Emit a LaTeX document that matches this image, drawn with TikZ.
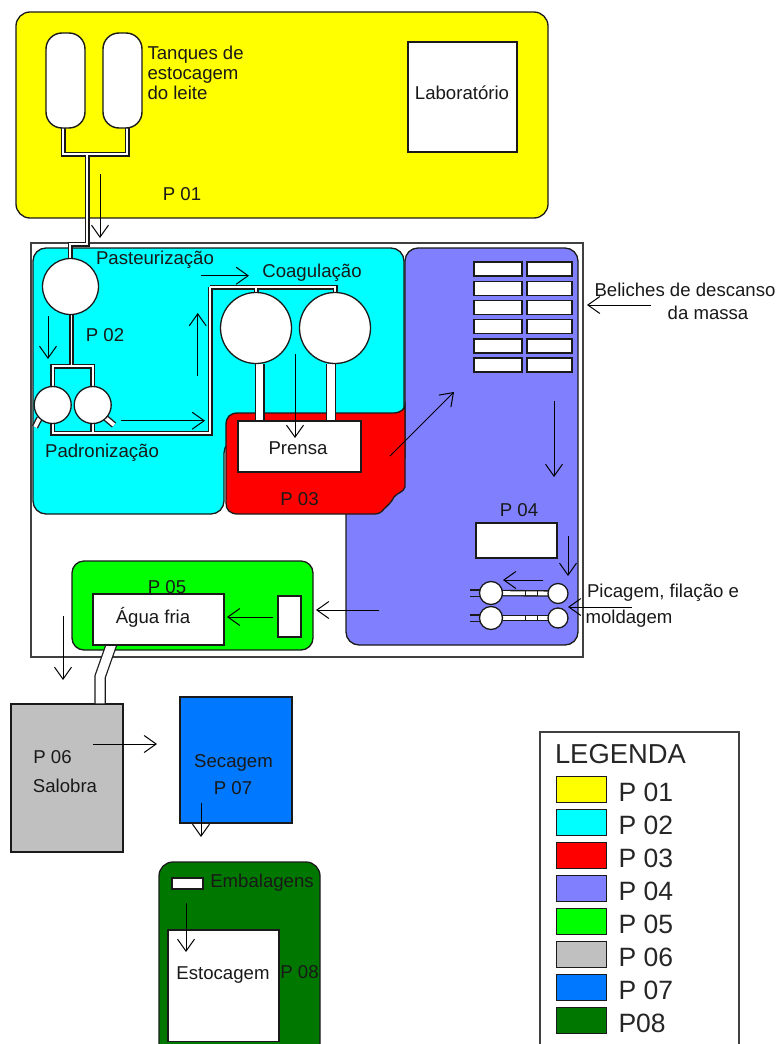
\documentclass[tikz,border=0pt]{standalone}
\usepackage{fontspec}
\setmainfont{Liberation Sans}
\usetikzlibrary{arrows.meta}
\definecolor{cP1}{HTML}{FFFF00}
\definecolor{cP2}{HTML}{00FFFF}
\definecolor{cP3}{HTML}{FF0000}
\definecolor{cP4}{HTML}{8080FF}
\definecolor{cP5}{HTML}{00FF00}
\definecolor{cP6}{HTML}{C0C0C0}
\definecolor{cP7}{HTML}{0078FF}
\definecolor{cP8}{HTML}{007800}
\definecolor{edge}{HTML}{1A1A1A}
\tikzset{
  zone/.style={draw=edge,line width=1.3pt},
  whitebox/.style={draw=edge,line width=1.4pt,fill=white,inner sep=0pt,outer sep=0pt},
  circ/.style={circle,draw=edge,line width=1.3pt,fill=white,inner sep=0pt,outer sep=0pt},
  lbl/.style={font=\fontsize{18.6}{20}\selectfont,text=black!90,inner sep=0pt,outer sep=0pt},
  leglbl/.style={font=\fontsize{26.5}{30}\selectfont,text=black!85,inner sep=0pt,outer sep=0pt},
  pipeout/.style={draw=edge,line width=5pt,line join=miter},
  pipein/.style={draw=white,line width=1.8pt,line join=miter},
  barout/.style={draw=edge,line width=6.5pt},
  barin/.style={draw=white,line width=3.8pt},
  wideout/.style={draw=edge,line width=10pt},
  widein/.style={draw=white,line width=7.6pt},
  hoseout/.style={draw=edge,line width=11.5pt},
  hosein/.style={draw=white,line width=9pt},
  flow/.style={draw=black,line width=1pt,-{Straight Barb[length=12pt,width=17pt,line width=1pt]}},
  swatch/.style={draw=edge,line width=1.6pt,minimum width=50pt,minimum height=26pt,inner sep=0pt,outer sep=0pt},
  frame/.style={draw=black!75,line width=1.5pt},
}
\newcommand{\flowarrow}[3]{%
  \coordinate (#1s) at (#2); \coordinate (#1e) at (#3);
  \draw[flow] (#1s) -- (#1e);}
\newcommand{\thinpipes}[1]{%
  \draw[#1] (tankA.south -| jA) -- (jA) -- (jB) -- (tankB.south -| jB);
  \draw[#1] (jC) -- (jD) -- (jE) -- (past.north -| jE);
  \draw[#1] (past.south -| jF) -- (jF);
  \draw[#1] (padA.north) -- (padA.north |- jF) -- (padB.north |- jF) -- (padB.north);
  \draw[#1] (padA.south) -- (padA.south |- jG) -- (jG) -- (jH) -- (jI);
  \draw[#1] (padB.south) -- (padB.south |- jG);
  \draw[#1] (jI -| coagA) -- (coagA.north);
  \draw[#1] (jI) -- (coagB.north |- jI) -- (coagB.north);
}
\newcommand{\barpipes}[1]{%
  \draw[#1] (padA.225) -- (nozA);
  \draw[#1] (padB.-45) -- (nozB);
  \draw[#1] (fillA.center) -- (fillB.center);
  \draw[#1] (fillC.center) -- (fillD.center);
}
\begin{document}
\begin{tikzpicture}[x=1pt,y=-1pt]
\useasboundingbox (0,0) rectangle (779,1044);
% P01
\draw[zone,fill=cP1,rounded corners=14pt] (16,12) rectangle (548,218);
% main frame
\draw[frame] (31,243) rectangle (583,657);
% P02
\draw[zone,fill=cP2,rounded corners=13pt] (33,248) -- (404,248) -- (404,440) -- (224,440) -- (224,514) -- (33,514) -- cycle;
% P04
\draw[zone,fill=cP4,rounded corners=13pt] (405,300) -- (405,248) -- (578,248) -- (578,645) -- (346,645) -- (346,470) -- (405,470) -- cycle;
% P03
\draw[zone,fill=cP3] (226,425) .. controls (226,417) and (230,413) .. (238,413) -- (394,413) .. controls (400,413) and (405,409) .. (405,405) -- (405,487) .. controls (403,493) and (398,492) .. (394,497) .. controls (391,503) and (388,505) .. (384,509) .. controls (381,513) and (378,514) .. (374,514) -- (238,514) .. controls (230,514) and (226,510) .. (226,503) -- cycle;
% P05
\draw[zone,fill=cP5,rounded corners=12pt] (72,561) rectangle (313,650);
% P06, P07, P08
\node[zone,fill=cP6,minimum width=112pt,minimum height=148pt,inner sep=0pt] (p6) at (67,778) {};
\node[zone,fill=cP7,minimum width=112pt,minimum height=126pt,inner sep=0pt] (p7) at (236,760) {};
\draw[zone,fill=cP8,rounded corners=14pt] (159,862) rectangle (320,1060);

% junctions of the pipes
\coordinate (jA) at (63,154);
\coordinate (jB) at (127,154);
\coordinate (jC) at (87,154);
\coordinate (jD) at (87,244);
\coordinate (jE) at (70,244);
\coordinate (jF) at (71.5,366);
\coordinate (jG) at (53,433);
\coordinate (jH) at (210,433);
\coordinate (jI) at (210,287);
\coordinate (nozA) at (35,427);
\coordinate (nozB) at (114,425);

% equipment (named first, placed here so that pipes can refer to them)
\path node[minimum width=39pt,minimum height=95pt,inner sep=0pt,outer sep=0pt] (tankA) at (65.5,80.5) {}
      node[minimum width=39pt,minimum height=95pt,inner sep=0pt,outer sep=0pt] (tankB) at (122.5,80.5) {}
      node[circle,minimum size=56pt,inner sep=0pt,outer sep=0pt] (past) at (70.5,286.5) {}
      node[circle,minimum size=37pt,inner sep=0pt,outer sep=0pt] (padA) at (52.7,405) {}
      node[circle,minimum size=37pt,inner sep=0pt,outer sep=0pt] (padB) at (92.7,405) {}
      node[circle,minimum size=71pt,inner sep=0pt,outer sep=0pt] (coagA) at (256,328) {}
      node[circle,minimum size=71pt,inner sep=0pt,outer sep=0pt] (coagB) at (335,328) {}
      node[minimum width=123pt,minimum height=51pt,inner sep=0pt,outer sep=0pt] (prensa) at (299.5,446.5) {}
      node[circle,minimum size=23pt,inner sep=0pt,outer sep=0pt] (fillA) at (491,593) {}
      node[circle,minimum size=20pt,inner sep=0pt,outer sep=0pt] (fillB) at (558,593.5) {}
      node[circle,minimum size=23pt,inner sep=0pt,outer sep=0pt] (fillC) at (491,618) {}
      node[circle,minimum size=20pt,inner sep=0pt,outer sep=0pt] (fillD) at (558,618) {}
      node[minimum width=131pt,minimum height=51pt,inner sep=0pt,outer sep=0pt] (agua) at (158.5,619.5) {};

% thin pipes
\thinpipes{pipeout}
\thinpipes{pipein}
\barpipes{barout}
\barpipes{barin}
% dividers on the filling bars
\foreach \i/\xx/\yy in {a/525/593,b/537/593,c/525/618,d/537/618}{
  \draw[draw=edge,line width=1pt] (\xx,\yy-3) coordinate (d\i) -- (\xx,\yy+3);
}
% stubs at the left of the filling heads
\coordinate (stA) at (470,590); \coordinate (stB) at (470,596.5);
\coordinate (stC) at (470,615); \coordinate (stD) at (470,621.5);
\draw[draw=edge,line width=1.2pt] (stA) -- (stA -| fillA) (stB) -- (stB -| fillA) (stC) -- (stC -| fillC) (stD) -- (stD -| fillC);

% wide pipes
\coordinate (wA) at (259.5,424); \coordinate (wB) at (331,424);
\draw[wideout] (coagA.south -| wA) -- (wA);
\draw[widein] (coagA.south -| wA) -- (wA);
\draw[wideout] (coagB.south -| wB) -- (wB);
\draw[widein] (coagB.south -| wB) -- (wB);
\coordinate (wC) at (112,643); \coordinate (wD) at (100,677);
\draw[hoseout] (wC) -- (wD) -- (wD |- p6.north);
\draw[hosein] (wC) -- (wD) -- (wD |- p6.north);

% white equipment
\node[whitebox,rounded corners=16pt,minimum width=39pt,minimum height=95pt] (tankAb) at (tankA) {};
\node[whitebox,rounded corners=16pt,minimum width=39pt,minimum height=95pt] (tankBb) at (tankB) {};
\node[whitebox,minimum width=109pt,minimum height=110pt] (lab) at (462.5,97) {};
\node[circ,minimum size=56pt] (pastb) at (past) {};
\node[circ,minimum size=37pt] (padAb) at (padA) {};
\node[circ,minimum size=37pt] (padBb) at (padB) {};
\node[circ,minimum size=71pt] (coagAb) at (coagA) {};
\node[circ,minimum size=71pt] (coagBb) at (coagB) {};
\node[whitebox,minimum width=123pt,minimum height=51pt] (prensab) at (prensa) {};
\node[circ,minimum size=23pt] (fillAb) at (fillA) {};
\node[circ,minimum size=20pt] (fillBb) at (fillB) {};
\node[circ,minimum size=23pt] (fillCb) at (fillC) {};
\node[circ,minimum size=20pt] (fillDb) at (fillD) {};
% beliches
\foreach \r in {0,...,5}{
  \node[whitebox,minimum width=48pt,minimum height=14pt] (belL\r) at (498,269+19.2*\r) {};
  \node[whitebox,minimum width=45pt,minimum height=14pt] (belR\r) at (549.5,269+19.2*\r) {};
}
\node[whitebox,minimum width=81pt,minimum height=35pt] (formas) at (516.5,540.5) {};
% P05 contents (label sits behind the box)
\node[lbl] (tP5) at (167,587) {P 05};
\node[whitebox,minimum width=131pt,minimum height=51pt] (aguab) at (agua) {};
\node[whitebox,minimum width=23pt,minimum height=41pt] (tanqP5) at (289.5,616.5) {};
% P08 contents
\node[whitebox,minimum width=31pt,minimum height=11pt] (emb) at (187.5,883.5) {};
\node[whitebox,minimum width=111pt,minimum height=111.5pt] (esto) at (223.5,985.7) {};

% flow arrows
\flowarrow{fa}{100,174}{100,238}
\flowarrow{fb}{48,316}{48,359}
\flowarrow{fc}{120.7,420.7}{205,420.7}
\flowarrow{fd}{197.7,376}{197.7,313}
\flowarrow{ff}{201,275.7}{249,275.7}
\flowarrow{fg}{295,354}{295,438}
\flowarrow{fh}{390,456}{454,392}
\flowarrow{fi}{651,305}{587,305}
\flowarrow{fj}{554,401}{554,477}
\flowarrow{fk}{568,536}{568,576}
\flowarrow{fl}{543,580}{503,580}
\flowarrow{fm}{632,607}{568,607}
\flowarrow{fn}{379,610}{316,610}
\flowarrow{fo}{273,617}{227,617}
\flowarrow{fp}{63,616}{63,680}
\flowarrow{fq}{93,744}{157,744}
\flowarrow{fr}{201,803}{201,837}
\flowarrow{fs}{186,903}{186,952}

% labels
\node[lbl,anchor=west,align=left] (tTanq) at (147.5,73) {Tanques de\\estocagem\\do leite};
\node[lbl] (tLab) at (462,93) {Laboratório};
\node[lbl] (tP1) at (182,194) {P 01};
\node[lbl] (tPast) at (155,260) {Pasteurização};
\node[lbl] (tCoag) at (312,273) {Coagulação};
\node[lbl] (tP2) at (105,335) {P 02};
\node[lbl] (tPad) at (102,453) {Padronização};
\node[lbl] (tPrensa) at (298,448) {Prensa};
\node[lbl] (tP3) at (299.5,499.5) {P 03};
\node[lbl] (tBelA) at (685,290) {Beliches de descanso};
\node[lbl] (tBelB) at (708,313) {da massa};
\node[lbl] (tP4) at (519,510) {P 04};
\node[lbl] (tPicA) at (663,593) {Picagem, filação e};
\node[lbl] (tPicB) at (629,619) {moldagem};
\node[lbl] (tAgua) at (153,617) {Água fria};
\node[lbl] (tP6) at (52.5,757) {P 06};
\node[lbl] (tSal) at (65,786) {Salobra};
\node[lbl] (tSec) at (233.5,763) {Secagem};
\node[lbl] (tP7) at (233,788) {P 07};
\node[lbl] (tEmb) at (262,883) {Embalagens};
\node[lbl] (tEsto) at (223,975) {Estocagem};
\node[lbl] (tP8) at (299.5,972) {P 08};

% legend
\draw[frame,line width=1.6pt] (540,732) rectangle (739,1060);
\node[leglbl,font=\fontsize{27.4}{30}\selectfont,anchor=west] (tLeg) at (555,754) {LEGENDA};
\foreach \i/\c/\t in {0/cP1/P 01,1/cP2/P 02,2/cP3/P 03,3/cP4/P 04,4/cP5/P 05,5/cP6/P 06,6/cP7/P 07,7/cP8/P08}{
  \node[swatch,fill=\c] (sw\i) at (581.5,789.5+33*\i) {};
  \node[leglbl,anchor=west] (lg\i) at (618.5,792.5+33*\i) {\t};
}
\end{tikzpicture}
\end{document}
